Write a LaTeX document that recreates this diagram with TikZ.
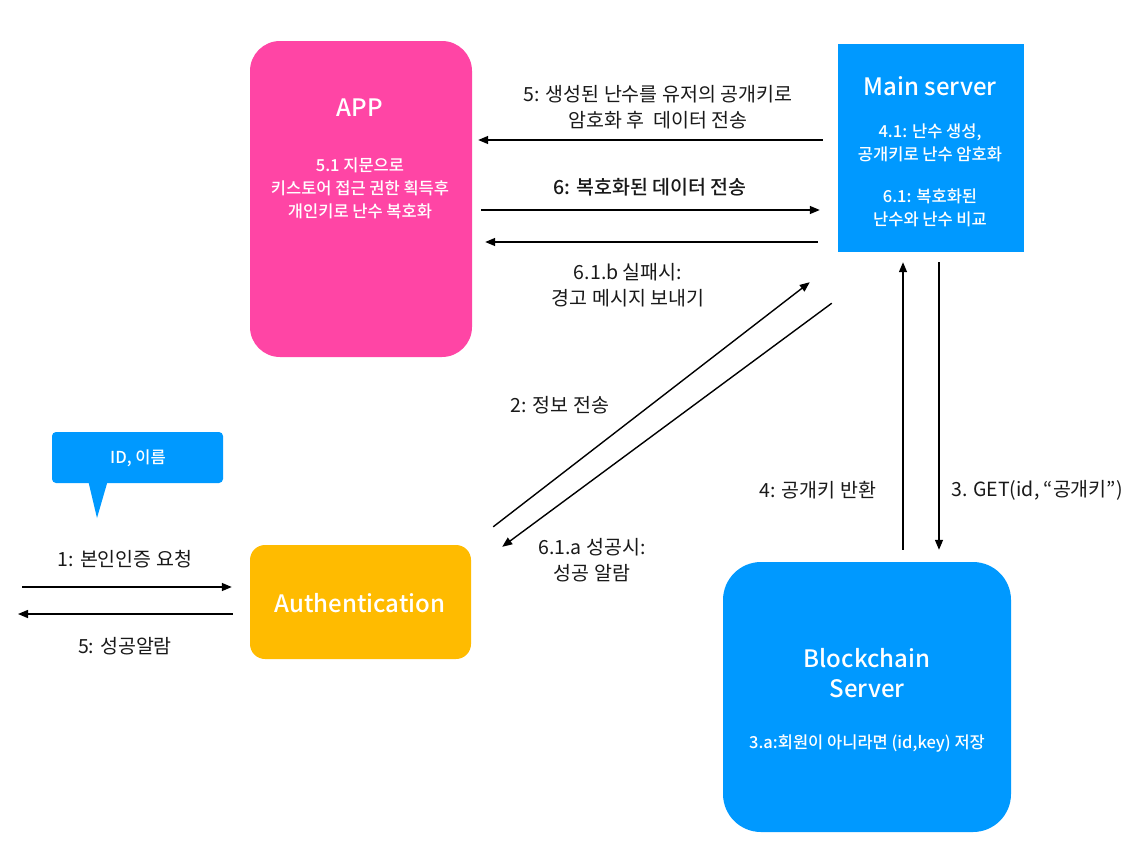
\documentclass[tikz,border=0pt]{standalone}
\usepackage{fontspec}
\setmainfont{Noto Sans CJK KR}
\newfontfamily\medfont{Noto Sans CJK KR Medium}
\usetikzlibrary{arrows.meta,positioning}
\definecolor{apppink}{HTML}{FF45A5}
\definecolor{srvblue}{HTML}{0099FF}
\definecolor{authgold}{HTML}{FFBB00}
\def\lblfont{\fontsize{19.5}{26}\selectfont}
\def\ttlfont{\medfont\fontsize{24}{30}\selectfont}
\def\smlfont{\medfont\fontsize{16.5}{23}\selectfont}

\begin{document}
\begin{tikzpicture}[>={Triangle[width=8pt,length=10pt]}, box/.style={rectangle, draw=none, inner sep=0pt}, ttl/.style={text=white, font=\ttlfont, align=center}, sml/.style={text=white, font=\smlfont, align=center}, lbl/.style={font=\lblfont, align=center, text=black!90}, arr/.style={->, line width=1.4pt}]
		\useasboundingbox (0pt, 0pt) rectangle (1134pt, -849pt);
		\draw (361.0pt, -199.0pt)node[box, fill=apppink, rounded corners=30pt, minimum width=222pt, minimum height=316pt](app){};
		\draw (931.0pt, -148.0pt)node[box, fill=srvblue, minimum width=186pt, minimum height=208pt](main){};
		\draw (360.5pt, -602.0pt)node[box, fill=authgold, rounded corners=15pt, minimum width=221pt, minimum height=114pt](auth){};
		\draw (867.0pt, -697.0pt)node[box, fill=srvblue, rounded corners=38pt, minimum width=288pt, minimum height=270pt](chain){};
		\draw (137.5pt, -457.5pt)node[box, fill=srvblue, rounded corners=4pt, minimum width=171pt, minimum height=51pt](bubble){};
		\fill[srvblue] (88.0pt, -480.0pt) -- (108.0pt, -480.0pt) -- (97.0pt, -518.0pt) -- cycle;
		\draw (360.0pt, -108.0pt)node[ttl](apptitle){APP};
		\draw (360.0pt, -188.0pt)node[sml](appnote){5.1 지문으로\\키스토어 접근 권한 획득후\\개인키로 난수 복호화};
		\draw (930.0pt, -86.0pt)node[ttl](maintitle){Main server};
		\draw (930.0pt, -142.5pt)node[sml](mainnote1){4.1: 난수 생성,\\공개키로 난수 암호화};
		\draw (930.0pt, -207.5pt)node[sml](mainnote2){6.1: 복호화된\\난수와 난수 비교};
		\draw (360.0pt, -603.0pt)node[ttl](authtitle){Authentication};
		\draw (867.0pt, -673.0pt)node[ttl](chaintitle){Blockchain\\Server};
		\draw (867.0pt, -744.0pt)node[sml](chainnote){3.a:회원이 아니라면 (id,key) 저장};
		\draw (138.0pt, -458.0pt)node[sml](bubbletext){ID, 이름};
		\draw (658.0pt, -107.0pt)node[lbl](l5){5: 생성된 난수를 유저의 공개키로\\암호화 후 \ 데이터 전송};
		\draw (650.0pt, -187.0pt)node[lbl, font=\lblfont\medfont](l6){6: 복호화된 데이터 전송};
		\draw (628.0pt, -285.0pt)node[lbl](l61b){6.1.b 실패시:\\경고 메시지 보내기};
		\draw (560.0pt, -405.0pt)node[lbl](l2){2: 정보 전송};
		\draw (592.0pt, -560.0pt)node[lbl](l61a){6.1.a 성공시:\\성공 알람};
		\draw (818.0pt, -490.0pt)node[lbl](l4){4: 공개키 반환};
		\draw (1037.0pt, -490.0pt)node[lbl](l3){3. GET(id, “공개키”)};
		\draw (125.0pt, -559.0pt)node[lbl](l1){1: 본인인증 요청};
		\draw (125.0pt, -646.0pt)node[lbl](l5b){5: 성공알람};
		\coordinate (user1) at (22.0pt, -587.0pt);
		\coordinate (user5) at (18.0pt, -614.0pt);
		\path[arr] ([xshift=-15pt, yshift=8pt]main.west) edge ([xshift=6pt, yshift=59pt]app.east);
		\path[arr] ([xshift=9pt, yshift=-11pt]app.east) edge ([xshift=-18pt, yshift=-62pt]main.west);
		\path[arr] ([xshift=-20pt, yshift=-94pt]main.west) edge ([xshift=13pt, yshift=-43pt]app.east);
		\path[arr] ([xshift=22pt, yshift=18pt]auth.north east) edge ([xshift=-28pt, yshift=-30pt]main.south west);
		\path[arr] ([xshift=-6pt, yshift=-51pt]main.south west) edge ([xshift=31pt, yshift=-2pt]auth.north east);
		\path[arr] ([xshift=36pt, yshift=12pt]chain.north) edge ([xshift=-28pt, yshift=-10pt]main.south);
		\path[arr] ([xshift=8pt, yshift=-10pt]main.south) edge ([xshift=72pt, yshift=12pt]chain.north);
		\path[arr] (user1) edge ([xshift=-18pt, yshift=15pt]auth.west);
		\path[arr] ([xshift=-17pt, yshift=-12pt]auth.west) edge (user5);
		\end{tikzpicture}
\end{document}
